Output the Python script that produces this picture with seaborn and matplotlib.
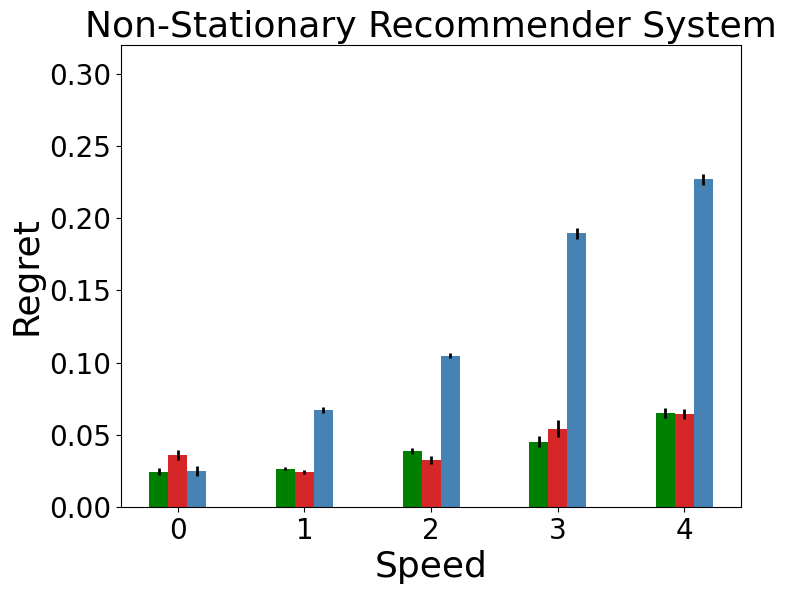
import numpy as np
import pandas as pd
import matplotlib
matplotlib.use("Agg")
import matplotlib.pyplot as plt
import seaborn as sns

# Values
speeds = [0, 1, 2, 3, 4]
methods = ["Method A", "Method B", "Method C"]
colors = ["green", "#d62728", "steelblue"]

regret_a = [0.0243, 0.0264, 0.0389, 0.0451, 0.0653]
regret_b = [0.0360, 0.0243, 0.0326, 0.0542, 0.0646]
regret_c = [0.0250, 0.0674, 0.1049, 0.1896, 0.2270]

err_a = [0.0024, 0.0010, 0.0020, 0.0038, 0.0035]
err_b = [0.0035, 0.0014, 0.0028, 0.0059, 0.0035]
err_c = [0.0035, 0.0020, 0.0017, 0.0038, 0.0038]

df = pd.DataFrame({
    "Speed": speeds * 3,
    "Method": [m for m in methods for _ in speeds],
    "Regret": regret_a + regret_b + regret_c,
})
errors = [err_a, err_b, err_c]

fig, ax = plt.subplots(figsize=(7.88, 5.94), dpi=100)
fig.subplots_adjust(left=0.1536, right=0.9404, top=0.9242, bottom=0.1465)

sns.barplot(data=df, x="Speed", y="Regret", hue="Method", hue_order=methods,
            palette=colors, width=0.45, saturation=1, errorbar=None,
            legend=False, ax=ax)

# Error bars on top of each bar
for container, err in zip(ax.containers, errors):
    xs = [p.get_x() + p.get_width() / 2 for p in container]
    hs = [p.get_height() for p in container]
    ax.errorbar(xs, hs, yerr=err, fmt="none", ecolor="black", elinewidth=2)

ax.set_xlim(-0.4475, 4.4475)
ax.set_ylim(0, 0.32)
ax.set_yticks(np.arange(0, 0.31, 0.05))
ax.set_yticklabels([f"{v:.2f}" for v in np.arange(0, 0.31, 0.05)])
ax.tick_params(labelsize=20)
ax.set_xlabel("Speed", fontsize=26)
ax.set_ylabel("Regret", fontsize=26)
ax.set_title("Non-Stationary Recommender System", fontsize=26)

fig.savefig("out.png", dpi=100)
